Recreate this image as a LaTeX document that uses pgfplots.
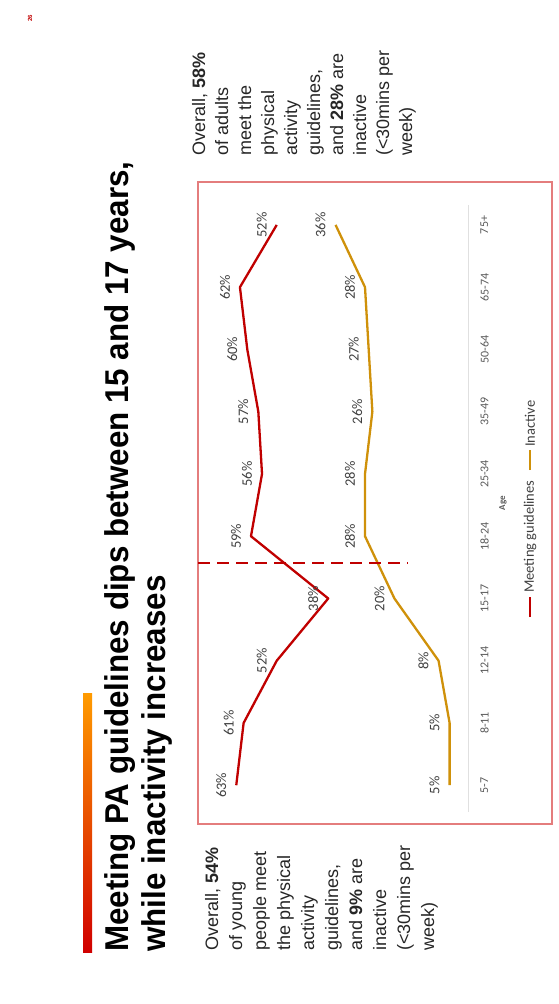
\documentclass[border=0pt]{standalone}
\usepackage{graphicx}
\usepackage{pgfplots}
\pgfplotsset{compat=1.18}
\usepackage{pgfplotstable}
\usepackage{fontspec}
\setmainfont{Liberation Sans}
\newfontfamily\carlito{Carlito}
\definecolor{meetred}{RGB}{192,0,0}
\definecolor{inactgold}{RGB}{207,145,10}
\definecolor{framered}{RGB}{228,125,125}
\definecolor{lblgrey}{RGB}{64,64,64}
\definecolor{tickgrey}{RGB}{89,89,89}

% idx = age group (0 = 5-7 ... 9 = 75+), values in percent
\pgfplotstableread{
idx meet inact
0   63   5
1   61   5
2   52   8
3   38   20
4   59   28
5   56   28
6   57   26
7   60   27
8   62   28
9   52   36
}\agedata

\begin{document}
\begin{tikzpicture}[x=1pt,y=1pt]
\useasboundingbox (0,0) rectangle (559,-1004);

% page number
\node[rotate=90, text=meetred, font=\bfseries\fontsize{6}{6}\selectfont] at (30,-18) {26};

% accent bar
\shade[top color={rgb,255:red,255;green,155;blue,0}, bottom color={rgb,255:red,208;green,0;blue,0}]
  (83,-693) rectangle (92,-952);

% title
\node[rotate=90, anchor=base west, inner sep=0pt, font=\bfseries\fontsize{33}{33}\selectfont]
  at (128,-952) {\scalebox{0.95}[1]{Meeting PA guidelines dips between 15 and 17 years,}};
\node[rotate=90, anchor=base west, inner sep=0pt, font=\bfseries\fontsize{33}{33}\selectfont]
  at (165,-952) {\scalebox{0.95}[1]{while inactivity increases}};

% side notes
\node[rotate=90, anchor=north west, inner sep=0pt, align=left, text=black!85,
      font=\fontsize{18}{24}\selectfont] at (205,-951)
  {Overall, \textbf{54\%}\\of young\\people meet\\the physical\\activity\\guidelines,\\and \textbf{9\%} are\\inactive\\(<30mins per\\week)};
\node[rotate=90, anchor=north west, inner sep=0pt, align=left, text=black!85,
      font=\fontsize{18}{23}\selectfont] at (192,-156)
  {Overall, \textbf{58\%}\\of adults\\meet the\\physical\\activity\\guidelines,\\and \textbf{28\%} are\\inactive\\(<30mins per\\week)};

% chart frame
\draw[framered, line width=1.2pt] (198,-182) rectangle (552,-824);

\coordinate (axsw) at (205,-812);
\begin{axis}[
  at={(axsw)}, anchor=south west,
  scale only axis, width=263pt, height=607pt,
  x dir=reverse, xmin=0, xmax=71.5,
  ymin=-0.43, ymax=9.32,
  axis line style={draw=none},
  major tick length=0pt,
  xtick={0}, xticklabels={},
  xmajorgrids, major grid style={black!12, line width=1pt},
  ytick={0,...,9},
  yticklabels={5-7,8-11,12-14,15-17,18-24,25-34,35-49,50-64,65-74,75+},
  yticklabel pos=right,
  yticklabel shift=9pt,
  yticklabel style={rotate=90, anchor=north, text=tickgrey,
                    font=\carlito\fontsize{12}{12}\selectfont},
  clip=false,
  /pgf/number format/assume math mode=true,
  point meta=x,
  nodes near coords={\pgfmathprintnumber{\pgfplotspointmeta}\%},
  every node near coord/.append style={anchor=center, xshift=-15pt, rotate=90,
                    text=lblgrey, font=\carlito\fontsize{14.5}{14.5}\selectfont},
]
\addplot[color=meetred, line width=2.3pt, line join=round] table[x=meet, y=idx] {\agedata};
\addplot[color=inactgold, line width=2.3pt, line join=round] table[x=inact, y=idx] {\agedata};
\draw[meetred, line width=2pt, dash pattern=on 12pt off 7pt] (axis cs:73.4,3.57) -- (axis cs:16.3,3.57);
\end{axis}

% axis title
\node[rotate=90, text=tickgrey, font=\carlito\bfseries\fontsize{9}{9}\selectfont] at (503,-503) {Age};

% legend
\draw[meetred, line width=2.3pt] (530,-617) -- (530,-597);
\node[rotate=90, anchor=west, inner sep=0pt, text=lblgrey, font=\carlito\fontsize{14.5}{14.5}\selectfont]
  at (530,-593) {Meeting guidelines};
\draw[inactgold, line width=2.3pt] (530,-470) -- (530,-450);
\node[rotate=90, anchor=west, inner sep=0pt, text=lblgrey, font=\carlito\fontsize{14.5}{14.5}\selectfont]
  at (530,-447) {Inactive};
\end{tikzpicture}
\end{document}
